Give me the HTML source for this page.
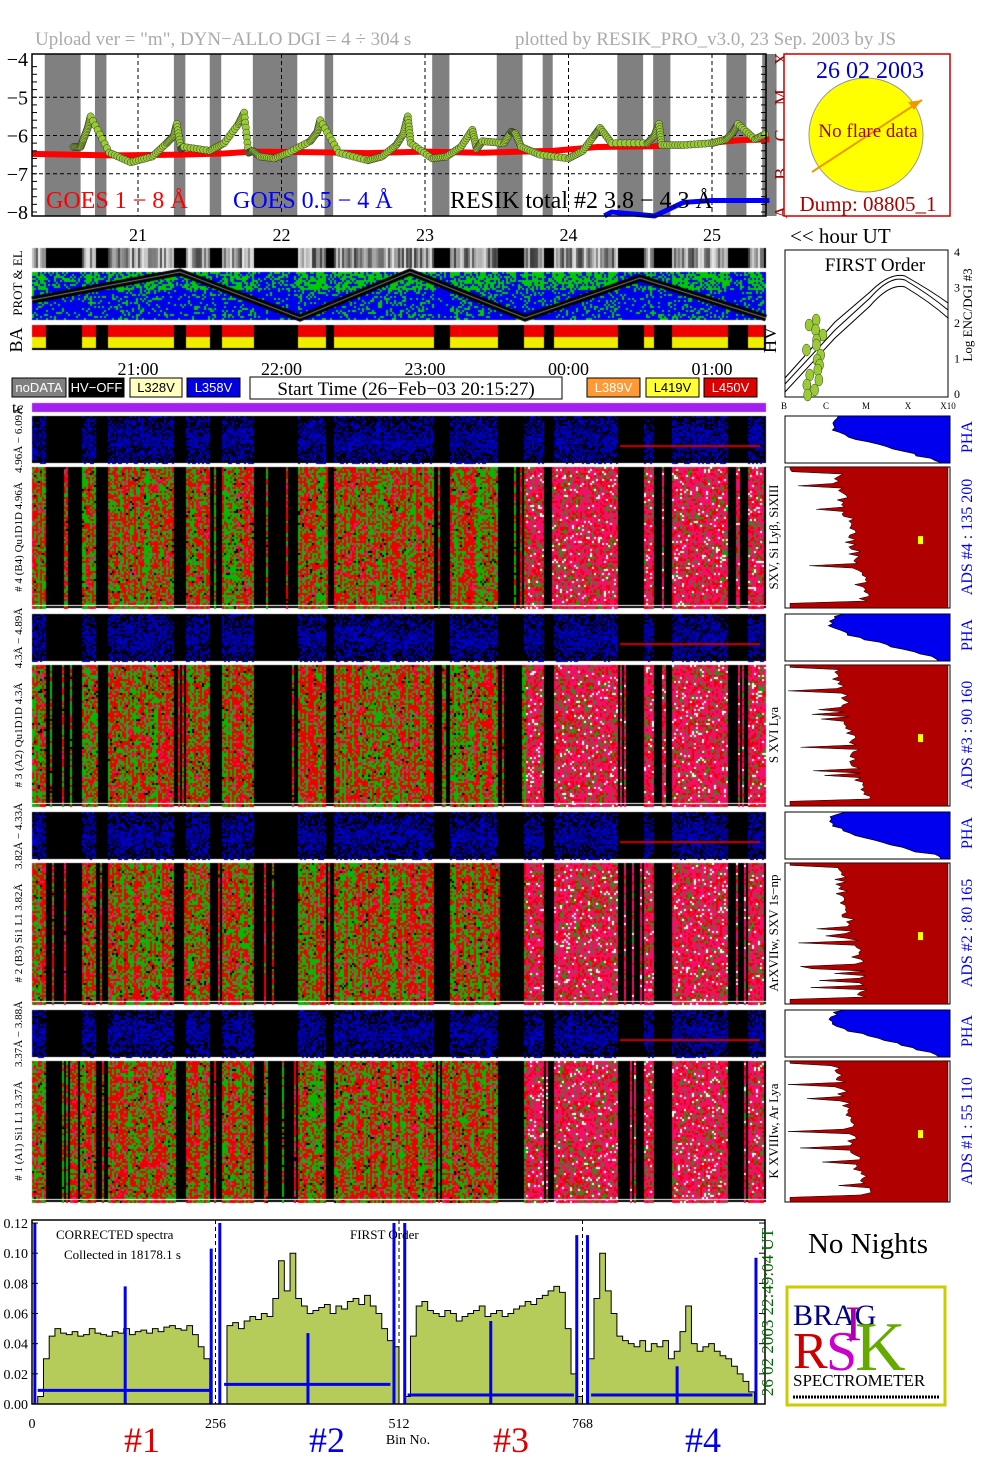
<!DOCTYPE html>
<html><head><meta charset="utf-8">
<style>
body{margin:0;background:#fff;}
#wrap{position:relative;width:1004px;height:1477px;overflow:hidden;background:#fff;font-family:"Liberation Serif",serif;}
canvas{position:absolute;}
svg{position:absolute;left:0;top:0;}
</style></head>
<body>
<div id="wrap">
<canvas id="hm" width="1004" height="1477" style="left:0;top:0"></canvas>
<svg id="sv" width="1004" height="1477" xmlns="http://www.w3.org/2000/svg">
<text x="35" y="45" font-size="19" fill="#aaa">Upload ver = "m", DYN−ALLO DGI =   4 ÷ 304 s</text>
<text x="515" y="45" font-size="19" fill="#aaa">plotted by RESIK_PRO_v3.0, 23 Sep. 2003 by JS</text>
<g id="topg"></g>
<g id="botg"></g>
<g id="rtg"></g>
</svg>
</div>
<script>
// ---- data: top light-curve ----
const bandStart=[20.35,20.7,21.25,21.5,21.8,22.3,23.05,23.5,23.82,24.34,24.59,25.1,25.35];
const bandEnd  =[20.6,20.78,21.33,21.58,22.11,22.36,23.17,23.68,23.89,24.52,24.71,25.24,25.45];
const goesT=[20.26,20.8,21.3,21.6,21.8,22.3,22.6,23.0,23.4,23.9,24.2,24.6,24.9,25.2,25.4];
const goesV=[-6.48,-6.52,-6.5,-6.47,-6.42,-6.44,-6.46,-6.42,-6.45,-6.4,-6.3,-6.28,-6.22,-6.12,-6.1];
const resT=[20.55,20.6,20.62,20.65,20.67,20.8,20.95,21.1,21.2,21.25,21.27,21.3,21.32,21.5,21.6,21.7,21.74,21.77,21.8,21.85,21.95,22.05,22.2,22.25,22.27,22.4,22.6,22.7,22.8,22.85,22.88,22.9,23.05,23.15,23.25,23.33,23.36,23.4,23.55,23.6,23.63,23.67,23.8,24.0,24.1,24.18,24.22,24.3,24.55,24.6,24.63,24.65,24.8,25.0,25.1,25.15,25.18,25.3,25.38];
const resV=[-6.3,-6.3,-6.1,-5.8,-5.5,-6.45,-6.7,-6.55,-6.2,-6.0,-5.7,-6.35,-6.3,-6.4,-6.2,-5.7,-5.4,-6.45,-6.4,-6.55,-6.6,-6.45,-6.15,-5.9,-5.6,-6.45,-6.65,-6.55,-6.25,-5.95,-5.5,-6.2,-6.6,-6.55,-6.3,-5.85,-6.35,-6.15,-6.2,-5.9,-5.95,-6.3,-6.5,-6.6,-6.4,-6.0,-5.8,-6.2,-6.2,-6.0,-5.7,-6.25,-6.25,-6.2,-6.1,-5.9,-5.7,-6.1,-5.95];
const goesHiT=[24.25,24.3,24.6,24.8,25.0,25.4];
const goesHiV=[-8.1,-8.0,-8.2,-7.75,-7.7,-7.7];
const hourTicks=[21,22,23,24,25];
const yTicks=[-4,-5,-6,-7,-8];
// ---- data: bottom spectrum (every 8 bins) ----
const specVals=[0,0.005,0.03,0.045,0.05,0.047,0.046,0.048,0.045,0.046,0.05,0.047,0.046,0.045,0.048,0.047,0.05,0.046,0.048,0.049,0.047,0.05,0.048,0.051,0.052,0.05,0.049,0.052,0.046,0.038,0.03,0,
0,0,
0.052,0.054,0.05,0.055,0.058,0.056,0.06,0.058,0.07,0.095,0.075,0.1,0.07,0.065,0.06,0.062,0.064,0.066,0.06,0.065,0.063,0.068,0.07,0.066,0.072,0.065,0.06,0.05,0.042,0.038,
0,0.005,
0.045,0.065,0.068,0.062,0.06,0.058,0.062,0.06,0.055,0.058,0.06,0.062,0.065,0.058,0.06,0.062,0.058,0.06,0.063,0.065,0.068,0.066,0.07,0.072,0.075,0.078,0.074,0.05,0.02,0.005,
0,0.03,
0.07,0.1,0.075,0.06,0.045,0.042,0.04,0.038,0.042,0.035,0.04,0.038,0.042,0.03,0.035,0.048,0.065,0.04,0.035,0.038,0.04,0.035,0.032,0.03,0.025,0.02,0.015,0.008,0];
const blueBase=[0.009,0.013,0.006,0.006];
const spikeBins=[4,130,250,262,385,505,520,640,760,775,900,1010];
const spikeVals=[0.12,0.078,0.103,0.12,0.047,0.12,0.12,0.055,0.112,0.112,0.025,0.097];
const specTicks=[0,0.02,0.04,0.06,0.08,0.10,0.12];
const binTicks=[0,256,512,768];

const NS='http://www.w3.org/2000/svg';
function mk(p,t,a,txt){const e=document.createElementNS(NS,t);for(const k in a)e.setAttribute(k,a[k]);if(txt!==undefined)e.textContent=txt;p.appendChild(e);return e;}

let seed=12345;function rnd(){seed=(seed*1103515245+12345)&0x7fffffff;return seed/0x7fffffff;}

// ---- top plot ----
const X0=32,X1=766;
const tx=t=>138+(t-21)*143.5;
const ty=v=>59+(-4-v)*38.25;
const tg=document.getElementById('topg');
for(let i=0;i<bandStart.length;i++){
 const r=mk(tg,'rect',{x:tx(bandStart[i]),y:54,width:tx(bandEnd[i])-tx(bandStart[i]),height:162,fill:'#808080'});
 
 
}
hourTicks.forEach(h=>{mk(tg,'line',{x1:tx(h),y1:54,x2:tx(h),y2:216,stroke:'#000','stroke-dasharray':'4,3','stroke-width':1});
 const t=mk(tg,'text',{x:tx(h),y:241,'font-size':18,'text-anchor':'middle'},h);
 
 });
[-5,-6,-7].forEach(v=>mk(tg,'line',{x1:X0,y1:ty(v),x2:X1,y2:ty(v),stroke:'#000','stroke-dasharray':'4,3'}));
yTicks.forEach(v=>{const t=mk(tg,'text',{x:28,y:ty(v)+7,'font-size':20,'text-anchor':'end'},'−'+(-v));
 
 });
let d='';goesT.forEach((t,i)=>d+=(i?'L':'M')+tx(t)+','+ty(goesV[i]));
const gr=mk(tg,'path',{d:d,stroke:'#f00','stroke-width':6,fill:'none'});


d='';goesHiT.forEach((t,i)=>d+=(i?'L':'M')+tx(t)+','+Math.min(216,ty(goesHiV[i])));
const gb=mk(tg,'path',{d:d,stroke:'#00f','stroke-width':5,fill:'none'});


for(let i=0;i<resT.length-1;i++){
 const steps=8;
 for(let s=0;s<steps;s++){const t=resT[i]+(resT[i+1]-resT[i])*s/steps,v=resV[i]+(resV[i+1]-resV[i])*s/steps;
  const c=mk(tg,'circle',{cx:tx(t),cy:ty(v),r:3.6,fill:'#9c3',stroke:'#333','stroke-width':0.5});
  
  }
}
mk(tg,'rect',{x:X0,y:54,width:X1-X0,height:162,fill:'none',stroke:'#000','stroke-width':1.5,});
for(let v=-8;v<=-4;v+=0.2){mk(tg,'line',{x1:X0,y1:ty(v),x2:X0+5,y2:ty(v),stroke:'#000'});mk(tg,'line',{x1:X1,y1:ty(v),x2:X1-5,y2:ty(v),stroke:'#000'});}
mk(tg,'text',{x:46,y:208,'font-size':24,fill:'#f00',},'GOES 1 − 8 Å');
mk(tg,'text',{x:233,y:208,'font-size':24,fill:'#00f',},'GOES 0.5 − 4 Å');
mk(tg,'text',{x:450,y:208,'font-size':24,fill:'#000',},'RESIK total #2  3.8 − 4.3 Å');
['X','M','C','B','A'].forEach((l,i)=>mk(tg,'text',{x:780,y:ty(-4-i)+7,'font-size':18,fill:'#a00','text-anchor':'middle',transform:'rotate(-90 780 '+ty(-4-i)+')'},l));
mk(tg,'rect',{x:784,y:54,width:166,height:162,fill:'#fff',stroke:'#c00','stroke-width':1.5,});
mk(tg,'circle',{cx:866,cy:135,r:57,fill:'#ff0',stroke:'#999',});
mk(tg,'line',{x1:812,y1:172,x2:922,y2:100,stroke:'#e90','stroke-width':2});
mk(tg,'path',{d:'M922,100 l-14,2 l6,8 z',fill:'#e90'});
mk(tg,'text',{x:870,y:78,'font-size':24,fill:'#00c','text-anchor':'middle',},'26 02 2003');
mk(tg,'text',{x:868,y:137,'font-size':19,fill:'#a00','text-anchor':'middle',},'No flare data');
mk(tg,'text',{x:868,y:211,'font-size':21,fill:'#a00','text-anchor':'middle',},'Dump: 08805_1');
mk(tg,'text',{x:790,y:243,'font-size':21,},'<< hour UT');
['21:00','22:00','23:00','00:00','01:00'].forEach((s,i)=>mk(tg,'text',{x:tx(21+i),y:375,'font-size':18,'text-anchor':'middle',},s));
const leg=[[12,54,'#808080','noDATA','#fff'],[69,55,'#000','HV−OFF','#fff'],[130,52,'#ffffc0','L328V','#000'],[187,53,'#0000e0','L358V','#fff'],[587,53,'#f93','L389V','#fff'],[646,53,'#ff3','L419V','#000'],[704,53,'#d00','L450V','#fff']];
leg.forEach(l=>{const g=mk(tg,'g',{});
 
 
 mk(g,'rect',{x:l[0],y:378,width:l[1],height:19,fill:l[2],stroke:'#000'});
 mk(g,'text',{x:l[0]+l[1]/2,y:392,'font-size':13,fill:l[4],'text-anchor':'middle','font-family':'Liberation Sans,sans-serif'},l[3]);});
mk(tg,'rect',{x:250,y:377,width:312,height:22,fill:'#fff',stroke:'#000'});
mk(tg,'text',{x:406,y:395,'font-size':19,'text-anchor':'middle',},'Start Time (26−Feb−03 20:15:27)');
mk(tg,'text',{x:12,y:413,'font-size':16,},'tc');
function rl(x,y,s,fs,col,name){const t=mk(tg,'text',{x:x,y:y,'font-size':fs,fill:col||'#000','text-anchor':'middle',transform:'rotate(-90 '+x+' '+y+')'},s);
 
 }
rl(22,283,'PROT & EL',13,'#000','prot-el-label');rl(22,340,'BA',18,'#000','ba-label');
rl(22,440,'4.96Å − 6.09Å',11,'#000','pha4-label');rl(22,537,'# 4 (B4) Qu1D1D 4.96Å',11,'#000','ch4-label');
rl(22,638,'4.3Å − 4.89Å',11,'#000','pha3-label');rl(22,735,'# 3 (A2) Qu1D1D 4.3Å',11,'#000','ch3-label');
rl(22,836,'3.82Å − 4.33Å',11,'#000','pha2-label');rl(22,933,'# 2 (B3) Si1 L1 3.82Å',11,'#000','ch2-label');
rl(22,1034,'3.37Å − 3.88Å',11,'#000','pha1-label');rl(22,1131,'# 1 (A1) Si1 L1 3.37Å',11,'#000','ch1-label');
rl(778,537,'SXV, Si Lyβ, SiXIII',13,'#000','ch4-lines');rl(778,735,'S XVI Lya',13,'#000','ch3-lines');
rl(778,933,'ArXVIIw, SXV 1s−np',13,'#000','ch2-lines');rl(778,1131,'K XVIIIw, Ar Lya',13,'#000','ch1-lines');
rl(776,340,'HV',18,'#000','hv-label');
[[437,'PHA'],[537,'ADS #4 :  135 200'],[635,'PHA'],[735,'ADS #3 :   90 160'],[833,'PHA'],[933,'ADS #2 :   80 165'],[1031,'PHA'],[1131,'ADS #1 :   55 110']].forEach(r=>rl(972,r[0],r[1],16,'#00e','ads-label'));
rl(972,315,'Log ENC/DGI #3',13,'#000','log-enc-label');

// ---- bottom spectrum ----
const bg=document.getElementById('botg');
const bx=b=>32+b*0.7168;const by=v=>1404-v*1508;
mk(bg,'rect',{x:32,y:1220,width:733,height:184,fill:'#fff'});
d='M'+bx(0)+','+by(0);specVals.forEach((v,i)=>{d+='L'+bx(i*8)+','+by(v)+'L'+bx(i*8+8)+','+by(v);});d+='L'+bx(specVals.length*8)+','+by(0)+'Z';
const sp=mk(bg,'path',{d:d,fill:'#b5cc5a',stroke:'#000','stroke-width':1});


[256,512,768].forEach(b=>{mk(bg,'line',{x1:bx(b),y1:1220,x2:bx(b),y2:1404,stroke:'#000','stroke-dasharray':'4,3'});});
const segs=[[8,248],[268,500],[524,756],[780,1005]];
segs.forEach((s,k)=>{const l=mk(bg,'line',{x1:bx(s[0]),y1:by(blueBase[k]),x2:bx(s[1]),y2:by(blueBase[k]),stroke:'#00e','stroke-width':3});
 
 });
spikeBins.forEach((b,i)=>{const l=mk(bg,'line',{x1:bx(b),y1:by(0),x2:bx(b),y2:Math.max(1220,by(spikeVals[i])),stroke:'#00e','stroke-width':3});
 
 });
mk(bg,'rect',{x:32,y:1220,width:733,height:184,fill:'none',stroke:'#000','stroke-width':1.5});
specTicks.forEach(v=>{mk(bg,'line',{x1:32,y1:by(v),x2:38,y2:by(v),stroke:'#000'});mk(bg,'line',{x1:765,y1:by(v),x2:759,y2:by(v),stroke:'#000'});
 const t=mk(bg,'text',{x:28,y:by(v)+5,'font-size':14,'text-anchor':'end'},v.toFixed(2));
 
 });
binTicks.forEach(b=>{const t=mk(bg,'text',{x:bx(b),y:1428,'font-size':14,'text-anchor':'middle'},b);
 
 });
mk(bg,'text',{x:408,y:1444,'font-size':14,'text-anchor':'middle',},'Bin No.');
[['#1',142,'#d00'],['#2',327,'#00e'],['#3',511,'#d00'],['#4',703,'#00e']].forEach(c=>mk(bg,'text',{x:c[1],y:1452,'font-size':36,fill:c[2],'text-anchor':'middle',},c[0]));
mk(bg,'text',{x:56,y:1239,'font-size':13,},'CORRECTED spectra');
mk(bg,'text',{x:64,y:1259,'font-size':13,},'Collected in 18178.1 s');
mk(bg,'text',{x:350,y:1239,'font-size':13,},'FIRST Order');
const ut=mk(bg,'text',{x:773,y:1312,'font-size':17,fill:'#060','text-anchor':'middle',transform:'rotate(-90 773 1312)'},'26 02 2003   22:49:04 UT');


mk(bg,'text',{x:868,y:1253,'font-size':29,'text-anchor':'middle',},'No Nights');
const lg=mk(bg,'g',{});


mk(lg,'rect',{x:787,y:1287,width:158,height:118,fill:'#fff',stroke:'#cc0','stroke-width':3});
mk(lg,'text',{x:793,y:1325,'font-size':30,fill:'#008'},'BRAG');
mk(lg,'text',{x:793,y:1368,'font-size':52,fill:'#c00'},'R');
mk(lg,'text',{x:826,y:1370,'font-size':56,fill:'#c0c'},'S');
mk(lg,'text',{x:855,y:1370,'font-size':70,fill:'#6a0'},'K');
mk(lg,'text',{x:845,y:1340,'font-size':50,fill:'#a0a'},'I');
mk(lg,'text',{x:793,y:1386,'font-size':17},'SPECTROMETER');
mk(lg,'line',{x1:793,y1:1397,x2:940,y2:1397,stroke:'#000','stroke-width':3,'stroke-dasharray':'2,1'});

// ---- right panels ----
const rg=document.getElementById('rtg');
mk(rg,'rect',{x:785,y:250,width:163,height:147,fill:'#fff',stroke:'#000',});
mk(rg,'text',{x:875,y:271,'font-size':19,'text-anchor':'middle'},'FIRST Order');
['M785,384 L835,330 L870,298 Q890,275 905,280 Q930,295 948,310','M785,378 L835,322 L870,292 Q890,272 905,276 Q930,290 948,303','M785,392 L835,338 L870,306 Q890,283 905,287 Q930,302 948,318'].forEach(p=>mk(rg,'path',{d:p,fill:'none',stroke:'#000'}));
for(let i=0;i<16;i++){const c=mk(rg,'ellipse',{cx:803+rnd()*20,cy:320+i*5,rx:4,ry:6,fill:'#9c3',stroke:'#333','stroke-width':0.5});
 
 }
['4','3','2','1','0'].forEach((s,i)=>mk(rg,'text',{x:954,y:256+i*35.5,'font-size':12},s));
[['B',784],['C',826],['M',866],['X',908],['X10',948]].forEach(s=>mk(rg,'text',{x:s[1],y:409,'font-size':9,'text-anchor':'middle'},s[0]));
function phaPanel(y0,h){
 mk(rg,'rect',{x:785,y:y0,width:165,height:h,fill:'#fff',stroke:'#000'});
 let pts='950,'+(y0+h)+' ';
 for(let i=0;i<=20;i++){const yy=y0+h-i*h/20;const f=i/20;let w=10+f*140*(0.6+0.5*Math.sin(f*3))+rnd()*8;w=Math.min(160,w*(f<0.15?0.7:1));pts+=(950-w)+','+yy+' ';}
 pts+='950,'+y0;
 const p=mk(rg,'polygon',{points:pts,fill:'#00e',stroke:'#000','stroke-width':0.7});
 
 
}
function adsPanel(y0,h){
 mk(rg,'rect',{x:785,y:y0,width:165,height:h,fill:'#fff',stroke:'#000'});
 let pts='948,'+(y0+h)+' ';
 for(let i=0;i<=60;i++){const yy=y0+h-i*h/60;let w=75+i*0.5+rnd()*14;if(rnd()<0.12)w+=20+rnd()*45;if(i<3||i>58)w=158;w=Math.min(160,w);pts+=(948-w)+','+yy+' ';}
 pts+='948,'+y0;
 const p=mk(rg,'polygon',{points:pts,fill:'#b00000',stroke:'#000','stroke-width':0.5});
 
 
 mk(rg,'rect',{x:918,y:y0+h*0.49,width:5,height:8,fill:'#ff0'});
}
[[416,47,467,141],[614,47,665,141],[812,47,863,141],[1010,47,1061,141]].forEach(p=>{phaPanel(p[0],p[1]);adsPanel(p[2],p[3]);});

// ---- canvas texture panels ----
const cv=document.getElementById('hm').getContext('2d');
const inBand=x=>{for(let i=0;i<bandStart.length;i++)if(x>=tx(bandStart[i])&&x<=tx(bandEnd[i]))return true;return false;};
for(let x=32;x<766;x+=2){const g=inBand(x)?0:Math.floor(60+rnd()*180);cv.fillStyle='rgb('+g+','+g+','+g+')';cv.fillRect(x,248,2,20);}
cv.fillStyle='#00e';cv.fillRect(32,272,734,48);
for(let x=32;x<766;x+=2)for(let y=272;y<320;y+=2){const p=(y<290?0.7:0.25)*(inBand(x)?0.5:1);if(rnd()<p){cv.fillStyle='#0c0';cv.fillRect(x,y,2,2);}}
cv.strokeStyle='#000';cv.lineWidth=7;cv.beginPath();[[32,300],[180,272],[300,318],[410,272],[525,318],[640,278],[766,318]].forEach((p,i)=>i?cv.lineTo(p[0],p[1]):cv.moveTo(p[0],p[1]));cv.stroke();
cv.strokeStyle='#888';cv.lineWidth=1;cv.stroke();
for(let x=32;x<766;x+=2){const b=inBand(x);cv.fillStyle=b?'#000':'#e00';cv.fillRect(x,325,2,12);cv.fillStyle=b?'#000':'#ee0';cv.fillRect(x,337,2,11);}
cv.fillStyle='#000';cv.fillRect(32,348,734,2);
cv.fillStyle='#a020f0';cv.fillRect(32,403,734,9);
function phaStrip(y0,h){cv.fillStyle='#000';cv.fillRect(32,y0,734,h);
 for(let x=32;x<766;x+=2){if(inBand(x))continue;for(let y=y0;y<y0+h;y+=2){const mid=Math.abs(y-(y0+h*0.5))/(h*0.5);const p=0.9-mid*0.5;if(rnd()<p){const b=Math.floor(100+rnd()*120);cv.fillStyle='rgb(0,0,'+b+')';cv.fillRect(x,y,2,2);}}}
 cv.fillStyle='#c00';cv.fillRect(620,y0+h*0.62,140,2);}
function bigPanel(y0,h){cv.fillStyle='#000';cv.fillRect(32,y0,734,h);
 for(let x=32;x<766;x+=2){if(inBand(x)&&rnd()<0.85)continue;
  const right=x>525;let pr=right?0.8:0.2+rnd()*0.7;
  for(let y=y0;y<y0+h;y+=2){const r=rnd();let c;
   if(right){c=r<0.55?'#f0106a':r<0.8?'#e00':r<0.93?'#0a0':'#fff';}
   else{c=r<pr?(rnd()<0.2?'#f01070':'#e00'):(rnd()<0.05?'#000':'#0b0');}
   cv.fillStyle=c;cv.fillRect(x,y,2,2);}}
 cv.fillStyle='#fff';cv.fillRect(32,y0+h-3,734,1);}
[[416,47,467,141],[614,47,665,141],[812,47,863,141],[1010,47,1061,141]].forEach(p=>{phaStrip(p[0],p[1]);bigPanel(p[2],p[3]);});
</script>
</body></html>
